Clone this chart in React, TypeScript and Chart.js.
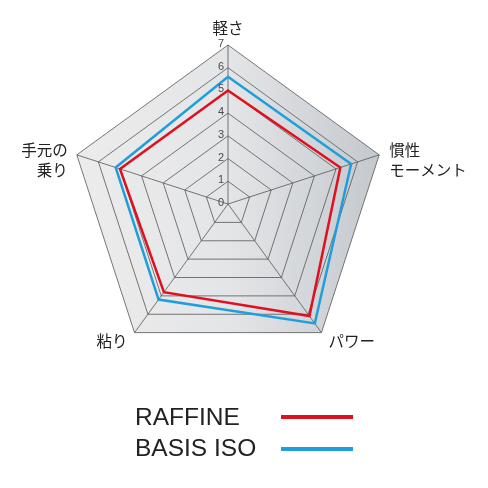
import React, { useEffect, useRef } from "react";
import { Chart, registerables } from "chart.js";

Chart.register(...registerables);

const categories: (string | string[])[] = ["軽さ", ["慣性", "モーメント"], "パワー", "粘り", ["手元の", "乗り"]];
const raffine = [5.0, 5.2, 6.1, 4.8, 5.0];
const basisIso = [5.6, 5.7, 6.5, 5.2, 5.2];
const tickValues = [0, 1, 2, 3, 4, 5, 6, 7];
const seriesNames = ["RAFFINE", "BASIS ISO"];
const seriesColors = ["#e0101f", "#1e9fdc"];

const JP_FONT = '"Noto Sans CJK JP", "Noto Sans", sans-serif';

const decorPlugin = {
  id: "decor",
  beforeDraw(chart: any) {
    const scale = chart.scales.r;
    const ctx = chart.ctx;
    const n = chart.data.labels.length;
    const R = scale.drawingArea;
    const pts = [];
    for (let i = 0; i < n; i++) pts.push(scale.getPointPosition(i, R));
    const minX = Math.min(...pts.map((p: any) => p.x));
    const maxX = Math.max(...pts.map((p: any) => p.x));
    const g = ctx.createLinearGradient(minX, 0, maxX, 0);
    g.addColorStop(0, "#ececec");
    g.addColorStop(0.5, "#e4e5e7");
    g.addColorStop(1, "#c4c9ce");
    ctx.save();
    ctx.beginPath();
    pts.forEach((p: any, i: number) => (i ? ctx.lineTo(p.x, p.y) : ctx.moveTo(p.x, p.y)));
    ctx.closePath();
    ctx.fillStyle = g;
    ctx.fill();
    ctx.restore();
  },
  afterDraw(chart: any) {
    const scale = chart.scales.r;
    const ctx = chart.ctx;
    const R = scale.drawingArea;
    ctx.save();
    // tick labels along top axis
    ctx.font = `11px "Liberation Sans", Arial, sans-serif`;
    ctx.fillStyle = "#4a4a4a";
    ctx.textAlign = "center";
    ctx.textBaseline = "middle";
    tickValues.forEach((v) => {
      const p = scale.getPointPosition(0, scale.getDistanceFromCenterForValue(v));
      ctx.fillText(String(v), p.x - 7, p.y - 1);
    });
    // point labels
    ctx.font = `15.5px ${JP_FONT}`;
    ctx.fillStyle = "#222";
    const labels = chart.data.labels;
    labels.forEach((lab: any, i: number) => {
      const lines = Array.isArray(lab) ? lab : [lab];
      const p = scale.getPointPosition(i, R);
      let x = p.x, y = p.y, align: CanvasTextAlign = "center";
      if (i === 0) { y = p.y - 17; }
      else if (i === 1) { x = p.x + 10; y = p.y - 5; align = "left"; }
      else if (i === 2) { x = p.x + 7; y = p.y + 8; align = "left"; }
      else if (i === 3) { x = p.x - 7; y = p.y + 8; align = "right"; }
      else { x = p.x - 9; y = p.y - 5; align = "right"; }
      ctx.textAlign = align;
      lines.forEach((t: string, k: number) => ctx.fillText(t, x, y + k * 20));
    });
    ctx.restore();
  },
};

function RadarChart() {
  const ref = useRef<HTMLCanvasElement>(null);
  useEffect(() => {
    if (!ref.current) return;
    const chart = new Chart(ref.current, {
      type: "radar",
      data: {
        labels: categories as any,
        datasets: [
          { label: seriesNames[0], data: raffine, borderColor: seriesColors[0], borderWidth: 2.5, pointRadius: 0, fill: false },
          { label: seriesNames[1], data: basisIso, borderColor: seriesColors[1], borderWidth: 2.5, pointRadius: 0, fill: false },
        ],
      },
      options: {
        responsive: false,
        animation: false,
        devicePixelRatio: 1,
        layout: { padding: { left: 69, top: 45, right: 101, bottom: 125 } },
        plugins: { legend: { display: false }, tooltip: { enabled: false } },
        scales: {
          r: {
            min: 0,
            max: 7,
            ticks: { stepSize: 1, display: false },
            grid: { color: "#555", lineWidth: 0.8 },
            angleLines: { color: "#555", lineWidth: 0.8 },
            pointLabels: { display: false },
          },
        },
      },
      plugins: [decorPlugin],
    });
    return () => chart.destroy();
  }, []);
  return <canvas ref={ref} width={488} height={488} style={{ position: "absolute", left: 0, top: 0 }} />;
}

export default function App() {
  const textStyle: React.CSSProperties = {
    position: "absolute",
    left: 135,
    fontFamily: '"Liberation Sans", Arial, sans-serif',
    fontSize: 24.5,
    lineHeight: "24px",
    color: "#222",
    whiteSpace: "nowrap",
  };
  const lineStyle = (top: number, color: string): React.CSSProperties => ({
    position: "absolute",
    left: 281,
    top,
    width: 72,
    height: 4,
    background: color,
  });
  return (
    <div style={{ position: "absolute", left: 0, top: 0, width: 488, height: 488, background: "#fff", overflow: "hidden" }}>
      <RadarChart />
      <div style={{ ...textStyle, top: 405 }}>{seriesNames[0]}</div>
      <div style={lineStyle(415, seriesColors[0])} />
      <div style={{ ...textStyle, top: 436 }}>{seriesNames[1]}</div>
      <div style={lineStyle(447, seriesColors[1])} />
    </div>
  );
}
